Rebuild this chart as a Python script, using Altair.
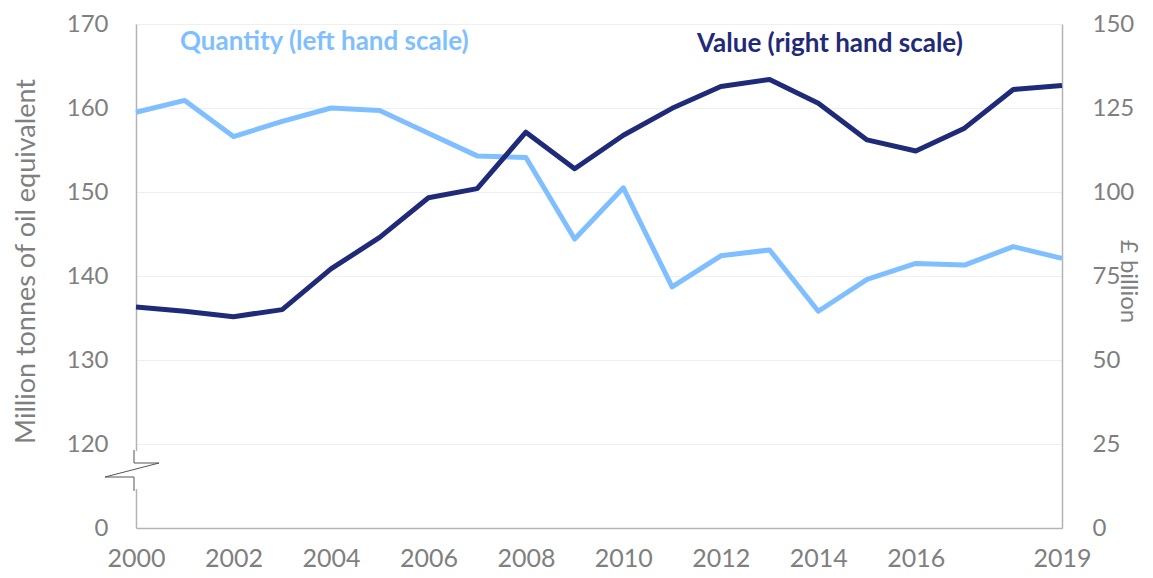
import altair as alt
import pandas as pd

years = list(range(2000, 2020))
quantity = [159.5, 160.9, 156.6, 158.4, 160.0, 159.7, 157.0, 154.3, 154.1, 144.4,
            150.5, 138.7, 142.4, 143.1, 135.8, 139.6, 141.5, 141.3, 143.5, 142.1]
value = [65.8, 64.5, 62.9, 65.0, 77.1, 86.5, 98.3, 101.0, 117.8, 106.9,
         116.9, 124.9, 131.4, 133.5, 126.4, 115.5, 112.2, 119.0, 130.5, 131.7]
left_ticks = [110, 120, 130, 140, 150, 160, 170]
right_ticks = [0, 25, 50, 75, 100, 125, 150]
x_ticks = [2000, 2002, 2004, 2006, 2008, 2010, 2012, 2014, 2016, 2019]

FONT = "Lato"
GREY = "#7f7f7f"
LIGHT = "#80bfff"
NAVY = "#1f2a78"
AXIS = "#b4b4b4"

df = pd.DataFrame({"year": years, "quantity": quantity, "value": value})

x_enc = alt.X(
    "year:Q",
    scale=alt.Scale(domain=[2000, 2019], nice=False, zero=False),
    axis=alt.Axis(values=x_ticks, format="d", title=None, grid=False, ticks=False,
                  labelFontSize=25, labelColor=GREY, labelFont=FONT, labelPadding=18,
                  domainColor=AXIS, domainWidth=1.5, labelFlush=False),
)

qty = alt.Chart(df).mark_line(color=LIGHT, strokeWidth=5, strokeJoin="round").encode(
    x=x_enc,
    y=alt.Y(
        "quantity:Q",
        scale=alt.Scale(domain=[110, 170], zero=False, nice=False),
        axis=alt.Axis(
            orient="left", values=left_ticks,
            labelExpr="datum.value == 110 ? '0' : datum.label",
            grid=True, gridColor="#efefef", gridWidth=1, ticks=False,
            domainColor=AXIS, domainWidth=1.5,
            labelFontSize=24, labelColor=GREY, labelFont=FONT, labelPadding=28,
            title="Million tonnes of oil equivalent", titleFont=FONT, titleFontSize=27,
            titleColor=GREY, titleFontWeight="normal", titleAngle=-90,
            titleX=-110, titleY=237, titleAlign="center", titleBaseline="middle",
        ),
    ),
)

val = alt.Chart(df).mark_line(color=NAVY, strokeWidth=5, strokeJoin="round").encode(
    x=x_enc,
    y=alt.Y(
        "value:Q",
        scale=alt.Scale(domain=[0, 150], nice=False),
        axis=alt.Axis(
            orient="right", values=right_ticks, grid=False, ticks=False,
            domainColor=AXIS, domainWidth=1.5,
            labelFontSize=24, labelColor=GREY, labelFont=FONT, labelPadding=30,
            title="£ billion", titleFont=FONT, titleFontSize=24, titleColor=GREY,
            titleFontWeight="normal", titleAngle=90,
            titleX=65, titleY=257, titleAlign="center", titleBaseline="middle",
        ),
    ),
)

one = pd.DataFrame({"k": [0]})

# axis break decoration
gap = alt.Chart(one).mark_rect(color="white").encode(
    x=alt.value(-4), x2=alt.value(4), y=alt.value(427), y2=alt.value(465)
)
segs = [(-2, 426, -2, 439), (-2, 439, 23, 439), (23, 439, -31, 453),
        (-31, 453, -2, 453), (-2, 453, -2, 467)]
brk = [
    alt.Chart(one).mark_rule(color="#555555", strokeWidth=1).encode(
        x=alt.value(a), y=alt.value(b), x2=alt.value(c), y2=alt.value(d)
    )
    for a, b, c, d in segs
]

lbl_q = alt.Chart(one).mark_text(
    text="Quantity (left hand scale)", color=LIGHT, font=FONT, fontSize=26,
    fontWeight="bold", align="left", baseline="middle"
).encode(x=alt.value(44), y=alt.value(18))

lbl_v = alt.Chart(one).mark_text(
    text="Value (right hand scale)", color=NAVY, font=FONT, fontSize=26,
    fontWeight="bold", align="left", baseline="middle"
).encode(x=alt.value(561), y=alt.value(20))

chart = alt.layer(qty, val, gap, *brk, lbl_q, lbl_v).resolve_scale(
    y="independent"
).properties(
    width=926, height=504,
    padding={"left": 128, "top": 16, "right": 83, "bottom": 45},
    autosize=alt.AutoSizeParams(type="none"),
).configure_view(stroke=None)

chart.save("out.html", embed_options={"renderer": "svg", "actions": False})
